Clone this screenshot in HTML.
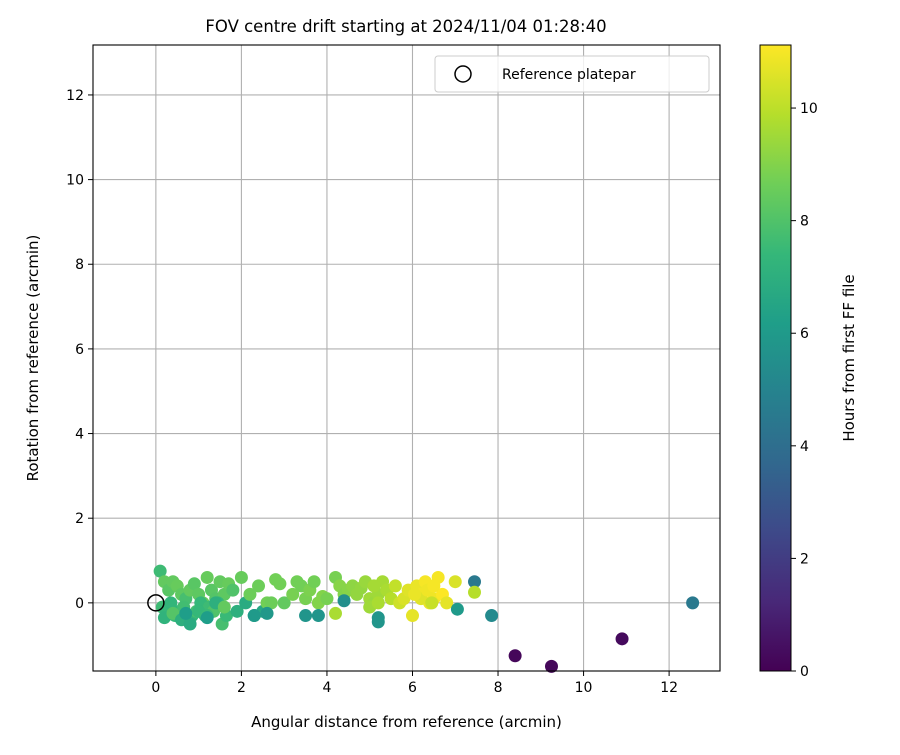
<!DOCTYPE html>
<html><head><meta charset="utf-8"><style>
body{margin:0;background:#fff;font-family:"Liberation Sans",sans-serif}
svg text{font-family:"DejaVu Sans","Liberation Sans",sans-serif;fill:#000}
</style></head><body>
<svg id="c" width="900" height="750" xmlns="http://www.w3.org/2000/svg">
<defs><linearGradient id="vir" x1="0" y1="1" x2="0" y2="0">
<stop offset="0" stop-color="#440154"/><stop offset="0.111" stop-color="#482878"/><stop offset="0.222" stop-color="#3e4989"/><stop offset="0.333" stop-color="#31688e"/><stop offset="0.444" stop-color="#26828e"/><stop offset="0.555" stop-color="#1f9e89"/><stop offset="0.666" stop-color="#35b779"/><stop offset="0.777" stop-color="#6ece58"/><stop offset="0.888" stop-color="#b5de2b"/><stop offset="1" stop-color="#fde725"/></linearGradient></defs>
<text x="406" y="32" font-size="16.5" text-anchor="middle">FOV centre drift starting at 2024/11/04 01:28:40</text>
<g id="grid"></g><g id="pts"></g><g id="axes"></g>
</svg>
<script>
const xs=[0.1,0.2,0.3,0.4,0.5,0.6,0.7,0.8,0.9,1.0,1.1,1.2,1.3,1.4,1.5,1.6,1.7,1.8,0.15,0.25,0.35,0.45,0.55,0.65,0.75,0.85,0.95,1.05,1.15,1.25,1.35,1.45,1.55,1.65,0.2,0.4,0.6,0.8,1.0,1.2,1.4,1.6,1.9,2.0,2.1,2.2,2.3,2.4,2.5,2.6,2.7,2.8,2.9,3.0,3.2,3.3,3.4,3.5,3.6,3.7,3.8,3.9,4.0,4.2,4.3,4.4,4.5,4.6,4.7,4.8,4.9,5.0,5.1,5.2,5.3,5.4,5.0,5.1,5.2,5.5,5.6,5.7,5.8,5.9,6.0,6.1,6.2,6.3,6.4,6.5,6.6,6.7,6.8,6.2,6.35,6.5,6.05,6.45,7.0,7.45,7.45,7.05,7.85,8.4,9.25,10.9,12.55,3.5,3.8,4.2,5.2,5.2,4.4,2.6,2.3,1.2,0.7];
const ys=[0.75,0.5,0.3,0.5,0.4,0.2,0.1,0.3,0.45,0.2,0.0,0.6,0.3,0.1,0.5,0.2,0.45,0.3,-0.1,-0.2,0.0,-0.3,-0.2,-0.1,-0.4,-0.3,-0.2,0.0,-0.3,-0.1,-0.2,0.0,-0.5,-0.3,-0.35,-0.25,-0.4,-0.5,-0.2,-0.3,0.0,-0.1,-0.2,0.6,0.0,0.2,-0.3,0.4,-0.2,0.0,0.0,0.55,0.45,0.0,0.2,0.5,0.4,0.1,0.3,0.5,0.0,0.15,0.1,0.6,0.4,0.2,0.3,0.4,0.2,0.35,0.5,0.1,0.0,0.2,0.5,0.3,-0.1,0.4,0.0,0.1,0.4,0.0,0.1,0.3,-0.3,0.4,0.2,0.5,0.0,0.1,0.6,0.2,0.0,0.1,0.3,0.4,0.2,0.0,0.5,0.5,0.25,-0.15,-0.3,-1.25,-1.5,-0.85,0.0,-0.3,-0.3,-0.25,-0.35,-0.45,0.05,-0.25,-0.3,-0.35,-0.25];
const hs=[7.6,8.4,8.2,8.4,8.5,8.3,7.8,8.4,8.2,8.3,8.5,8.5,8.2,8.1,8.4,8.3,8.5,8.0,7.6,7.4,7.3,7.4,7.3,7.7,7.0,7.3,7.8,7.4,7.0,7.6,8.0,7.4,7.8,7.5,7.2,8.1,7.0,6.8,7.4,7.5,7.0,8.4,7.0,8.5,6.8,8.6,6.8,8.6,6.6,8.7,8.6,8.7,8.7,8.4,8.8,8.7,8.7,8.8,8.9,8.7,9.0,9.0,8.8,8.8,9.1,9.0,9.1,9.2,9.3,9.3,9.4,9.5,9.4,9.5,9.6,9.7,9.5,9.6,9.7,9.9,10.1,10.3,10.5,10.6,10.7,10.8,10.9,11.0,10.8,10.9,11.0,11.1,10.7,10.6,10.9,11.0,10.8,10.2,10.5,4.5,9.9,6.0,5.3,0.2,0.2,0.3,4.5,5.8,5.8,9.7,5.8,5.8,5.5,5.9,6.0,6.2,6.2];
const X0=-1.47,X1=13.19,Y0=-1.61,Y1=13.18,L=93,R=720,T=45,B=671,HMAX=11.12;
const sx=v=>L+(v-X0)/(X1-X0)*(R-L), sy=v=>B-(v-Y0)/(Y1-Y0)*(B-T);
const vir=[[68,1,84],[72,40,120],[62,73,137],[49,104,142],[38,130,142],[31,158,137],[53,183,121],[110,206,88],[181,222,43],[253,231,37]];
function col(h){let t=Math.max(0,Math.min(1,h/HMAX))*(vir.length-1);let i=Math.min(vir.length-2,Math.floor(t)),f=t-i;
return 'rgb('+vir[i].map((c,k)=>Math.round(c+(vir[i+1][k]-c)*f)).join(',')+')';}
const NS='http://www.w3.org/2000/svg';
function mk(p,tag,a){const e=document.createElementNS(NS,tag);for(const k in a)e.setAttribute(k,a[k]);p.appendChild(e);return e;}
const grid=document.getElementById('grid'),axes=document.getElementById('axes'),pts=document.getElementById('pts');
const xt=[0,2,4,6,8,10,12],yt=[0,2,4,6,8,10,12];
xt.forEach(v=>{const g=mk(grid,'line',{x1:sx(v),x2:sx(v),y1:T,y2:B,stroke:'#b0b0b0','stroke-width':1.1});


mk(axes,'line',{x1:sx(v),x2:sx(v),y1:B,y2:B+5,stroke:'#000'});
const t=mk(axes,'text',{x:sx(v),y:B+21,'font-size':14,'text-anchor':'middle'});t.textContent=v;

});
yt.forEach(v=>{const g=mk(grid,'line',{x1:L,x2:R,y1:sy(v),y2:sy(v),stroke:'#b0b0b0','stroke-width':1.1});


mk(axes,'line',{x1:L-5,x2:L,y1:sy(v),y2:sy(v),stroke:'#000'});
const t=mk(axes,'text',{x:L-9,y:sy(v)+5,'font-size':14,'text-anchor':'end'});t.textContent=v;

});
xs.forEach((x,i)=>{const c=mk(pts,'circle',{cx:sx(x),cy:sy(ys[i]),r:6.5,fill:col(hs[i])});

});
const ref=mk(pts,'circle',{cx:sx(0),cy:sy(0),r:8,fill:'none',stroke:'#000','stroke-width':1.5});


const fr=mk(axes,'rect',{x:L,y:T,width:R-L,height:B-T,fill:'none',stroke:'#000','stroke-width':1.1});


const xl=mk(axes,'text',{x:(L+R)/2,y:727,'font-size':15,'text-anchor':'middle'});xl.textContent='Angular distance from reference (arcmin)';


const yl=mk(axes,'text',{x:38,y:(T+B)/2,'font-size':15,'text-anchor':'middle',transform:'rotate(-90 38 '+(T+B)/2+')'});yl.textContent='Rotation from reference (arcmin)';


const lg=mk(axes,'g',{});


mk(lg,'rect',{x:435,y:56,width:274,height:36,rx:3,fill:'#fff',stroke:'#ccc','fill-opacity':0.8});
mk(lg,'circle',{cx:463,cy:74,r:8,fill:'none',stroke:'#000','stroke-width':1.5});
const lt=mk(lg,'text',{x:502,y:79,'font-size':14});lt.textContent='Reference platepar';


const CL=760,CR=791;
const cb=mk(axes,'rect',{x:CL,y:T,width:CR-CL,height:B-T,fill:'url(#vir)',stroke:'#000','stroke-width':1});


const ct=[0,2,4,6,8,10];
ct.forEach(v=>{const y=B-v/HMAX*(B-T);mk(axes,'line',{x1:CR,x2:CR+5,y1:y,y2:y,stroke:'#000'});
const t=mk(axes,'text',{x:CR+9,y:y+5,'font-size':14});t.textContent=v;

});
const cl=mk(axes,'text',{x:854,y:(T+B)/2,'font-size':15,'text-anchor':'middle',transform:'rotate(-90 854 '+(T+B)/2+')'});cl.textContent='Hours from first FF file';


</script>
</body></html>
